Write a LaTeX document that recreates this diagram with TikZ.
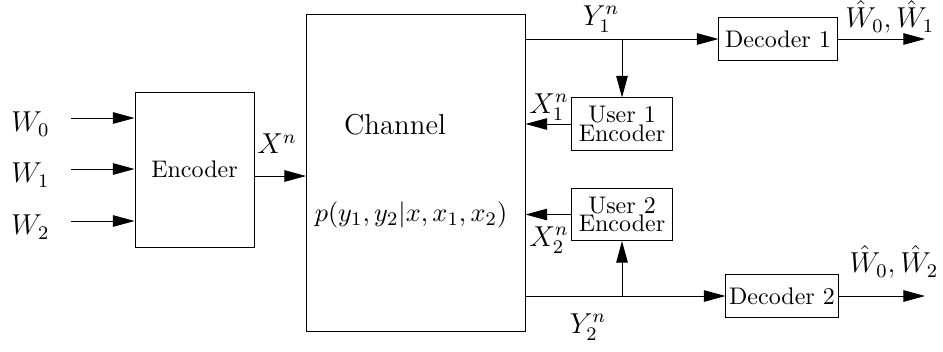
\documentclass[tikz,border=0pt]{standalone}
\usetikzlibrary{arrows.meta}

\begin{document}
\begin{tikzpicture}[x=0.41667pt, y=-0.41667pt,
    block/.style = {draw, font=\fontsize{10}{12}\selectfont, inner sep=0pt},
    userbox/.style = {block, align=center, minimum width=41.7pt, minimum height=21.7pt,
      font=\fontsize{10}{7.6}\selectfont},
    lbl/.style = {font=\large, inner sep=0pt},
    sig/.style = {-{Triangle[length=9pt,width=4.8pt]}}]
  \useasboundingbox (0,0) rectangle (943,351);

  % blocks
  \node[block, minimum width=49.6pt, minimum height=64.6pt] (enc) at (194.5,169.5) {Encoder};
  \node[block, minimum width=91.25pt, minimum height=131.7pt] (chan) at (415.5,173) {};
  \node[font=\large] (chantxt) at (395,125) {Channel};
  \node[font=\fontsize{10.95}{13}\selectfont] (chanp) at (411,215) {$p(y_1,y_2|x,x_1,x_2)$};
  \node[block, minimum width=49.2pt, minimum height=18.3pt] (dec1) at (778,39) {Decoder 1};
  \node[block, minimum width=46.7pt, minimum height=18.3pt] (dec2) at (782,296) {Decoder 2};
  \node[userbox] (u1) at (622,124) {User 1\\Encoder};
  \node[userbox] (u2) at (622,214.5) {User 2\\Encoder};

  % inputs
  \foreach \i/\y in {0/118, 1/169, 2/221} {
    \coordinate (w\i) at (71,\y);
    \draw[sig] (w\i) -- (w\i -| enc.west);
    \node[lbl, anchor=east] (wl\i) at (50,\y+6) {$W_{\i}$};
  }

  \coordinate (xin) at (306,176);
  \draw[sig] (enc.east |- xin) -- (xin);
  \node[lbl] (xl) at (277,144) {$X^n$};

  % outputs of the channel
  \draw[sig] (dec1.west -| chan.east) -- (dec1.west);
  \draw[sig] (u1.north |- dec1.west) -- (u1.north);
  \draw[sig] (u1.west) -- (u1.west -| chan.east);
  \draw[sig] (dec2.west -| chan.east) -- (dec2.west);
  \draw[sig] (u2.south |- dec2.west) -- (u2.south);
  \draw[sig] (u2.west) -- (u2.west -| chan.east);

  \coordinate (o1) at (925,39);
  \coordinate (o2) at (925,296);
  \draw[sig] (dec1.east) -- (o1);
  \draw[sig] (dec2.east) -- (o2);

  \node[lbl] (y1l) at (601,19) {$Y_1^n$};
  \node[lbl] (y2l) at (588,327) {$Y_2^n$};
  \node[lbl] (x1l) at (549,107) {$X_1^n$};
  \node[lbl] (x2l) at (549,240) {$X_2^n$};
  \node[lbl] (h1l) at (890,17) {$\hat{W}_0,\hat{W}_1$};
  \node[lbl] (h2l) at (894,262) {$\hat{W}_0,\hat{W}_2$};
\end{tikzpicture}
\end{document}
